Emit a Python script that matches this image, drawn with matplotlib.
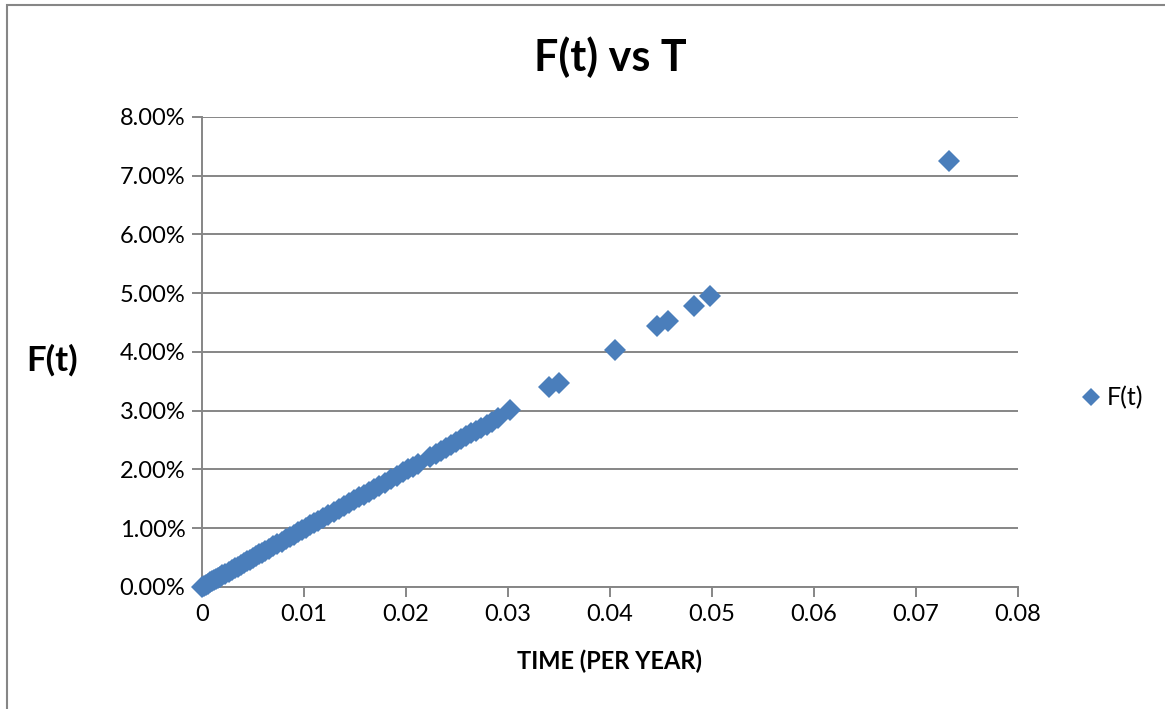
import numpy as np
import matplotlib.pyplot as plt
from matplotlib.ticker import FuncFormatter
from matplotlib.patches import Rectangle

# time (per year) and F(t)
time_vals = [0.0000, 0.0002, 0.0004, 0.0006, 0.0008, 0.0010, 0.0012, 0.0014, 0.0016, 0.0018,
             0.0020, 0.0023, 0.0026, 0.0029, 0.0032, 0.0035, 0.0038, 0.0041, 0.0044, 0.0047,
             0.0050, 0.0053, 0.0056, 0.0059, 0.0062, 0.0066, 0.0070, 0.0074, 0.0078, 0.0082,
             0.0086, 0.0090, 0.0094, 0.0098, 0.0102, 0.0106, 0.0110, 0.0114, 0.0119, 0.0124,
             0.0129, 0.0134, 0.0139, 0.0144, 0.0149, 0.0154, 0.0159, 0.0164, 0.0169, 0.0174,
             0.0179, 0.0185, 0.0191, 0.0197, 0.0202, 0.0207, 0.0212, 0.0224, 0.0229, 0.0234,
             0.0239, 0.0244, 0.0249, 0.0254, 0.0259, 0.0264, 0.0269, 0.0274, 0.0279, 0.0284,
             0.0290, 0.0302,
             0.0340, 0.0350, 0.0405, 0.0446, 0.0457, 0.0482, 0.0498, 0.0732]

ft_pct = [0.000, 0.020, 0.040, 0.059, 0.079, 0.099, 0.119, 0.139, 0.158, 0.178,
          0.198, 0.228, 0.257, 0.287, 0.317, 0.347, 0.376, 0.406, 0.436, 0.465,
          0.495, 0.525, 0.554, 0.584, 0.614, 0.653, 0.693, 0.733, 0.772, 0.812,
          0.851, 0.891, 0.931, 0.970, 1.010, 1.049, 1.089, 1.129, 1.178, 1.228,
          1.277, 1.327, 1.376, 1.426, 1.475, 1.525, 1.574, 1.624, 1.673, 1.723,
          1.772, 1.832, 1.891, 1.950, 2.000, 2.049, 2.099, 2.218, 2.267, 2.317,
          2.366, 2.416, 2.465, 2.515, 2.564, 2.614, 2.663, 2.713, 2.762, 2.812,
          2.871, 3.010,
          3.40, 3.48, 4.03, 4.44, 4.53, 4.78, 4.95, 7.25]

x_ticks = [0, 0.01, 0.02, 0.03, 0.04, 0.05, 0.06, 0.07, 0.08]
y_ticks = [0, 1, 2, 3, 4, 5, 6, 7, 8]

plt.rcParams['font.family'] = ['Lato', 'DejaVu Sans']

fig = plt.figure(figsize=(11.65, 7.09), dpi=100)
ax = fig.add_axes([0.1734, 0.1721, 0.7004, 0.6629])

blue = '#4A7EBB'
grey = '#868686'

ax.plot(time_vals, ft_pct, linestyle='none', marker='D', markersize=11,
        color=blue, markeredgewidth=0, label='F(t)', zorder=3, clip_on=False)

ax.set_xlim(0, 0.08)
ax.set_ylim(0, 8)
ax.set_xticks(x_ticks)
ax.set_yticks(y_ticks)
ax.xaxis.set_major_formatter(FuncFormatter(lambda v, p: '0' if v == 0 else f'{v:.2f}'))
ax.yaxis.set_major_formatter(FuncFormatter(lambda v, p: f'{v:.2f}%'))

ax.grid(axis='y', color=grey, linewidth=1.4)
ax.set_axisbelow(True)
for side in ['top', 'right']:
    ax.spines[side].set_visible(False)
for side in ['left', 'bottom']:
    ax.spines[side].set_color(grey)
    ax.spines[side].set_linewidth(1.4)
ax.tick_params(axis='both', colors=grey, length=7, width=1.4, labelsize=17,
               labelcolor='black', pad=5)

ax.set_title('F(t) vs T', fontsize=31, fontweight='bold', pad=33)
ax.set_xlabel('TIME (PER YEAR)', fontsize=17, fontweight='bold', labelpad=18)
ax.set_ylabel('F(t)', fontsize=25, fontweight='bold', rotation=0, va='center', ha='center')
ax.yaxis.set_label_coords(-0.184, 0.483)

ax.legend(loc='center left', bbox_to_anchor=(1.044, 0.402), frameon=False,
          fontsize=18, handletextpad=0.0, markerscale=0.8, handlelength=1.2)

# outer chart frame
fig.patches.append(Rectangle((7 / 1165, -0.05), 1.2, 1 - 5 / 709 + 0.05,
                             transform=fig.transFigure, fill=False,
                             edgecolor=grey, linewidth=1.5))

fig.savefig('out.png', dpi=100)
